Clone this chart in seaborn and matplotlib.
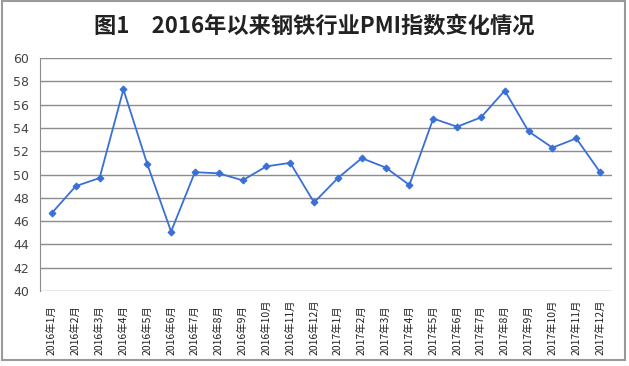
import numpy as np
import pandas as pd
import seaborn as sns
import matplotlib.pyplot as plt
from matplotlib.patches import Rectangle

# 月份与PMI数值
months = ['2016年1月', '2016年2月', '2016年3月', '2016年4月', '2016年5月', '2016年6月',
          '2016年7月', '2016年8月', '2016年9月', '2016年10月', '2016年11月', '2016年12月',
          '2017年1月', '2017年2月', '2017年3月', '2017年4月', '2017年5月', '2017年6月',
          '2017年7月', '2017年8月', '2017年9月', '2017年10月', '2017年11月', '2017年12月']
pmi = [46.7, 49.0, 49.7, 57.3, 50.9, 45.1, 50.2, 50.1, 49.5, 50.7, 51.0, 47.6,
       49.7, 51.4, 50.6, 49.1, 54.8, 54.1, 54.9, 57.2, 53.7, 52.3, 53.1, 50.2]
y_ticks = [40, 42, 44, 46, 48, 50, 52, 54, 56, 58, 60]

df = pd.DataFrame({'pos': np.arange(len(months)), 'PMI': pmi})

sns.set_style('white')
plt.rcParams['font.family'] = ['Noto Sans CJK SC', 'DejaVu Sans']

fig = plt.figure(figsize=(6.29, 3.66), dpi=100)
ax = fig.add_axes([40 / 629, 1 - 291 / 366, 572 / 629, 233 / 366])

# 外框
fig.patches.append(Rectangle((0.003, 0.016), 0.99, 0.98, transform=fig.transFigure,
                             fill=False, edgecolor='#9a9a9a', linewidth=1.5))

sns.lineplot(data=df, x='pos', y='PMI', ax=ax, color='#3a6fd6', linewidth=1.3,
             marker='D', markersize=3.5, markeredgecolor='#3a6fd6')

ax.set_xlim(-0.5, len(months) - 0.5)
ax.set_ylim(40, 60)
ax.set_yticks(y_ticks)
ax.set_yticklabels([str(v) for v in y_ticks], family='DejaVu Sans', fontsize=9, color='#444444')
ax.yaxis.grid(True, color='#8c8c8c', linewidth=1)
ax.set_axisbelow(True)
ax.tick_params(axis='y', length=0, pad=8)

# x轴刻度在分类边界
ax.set_xticks(np.arange(len(months) + 1) - 0.5)
ax.set_xticklabels([])
ax.tick_params(axis='x', direction='out', length=5, width=0.8, color='#777777')
for i, m in enumerate(months):
    ax.text(i, -0.275, m, transform=ax.get_xaxis_transform(), rotation=90,
            ha='center', va='bottom', fontsize=7.5, color='#222222')

ax.set_xlabel('')
ax.set_ylabel('')
for s in ['top', 'right', 'bottom']:
    ax.spines[s].set_visible(False)
ax.spines['left'].set_color('#8c8c8c')

fig.text(0.5, 0.93, '图1　2016年以来钢铁行业PMI指数变化情况', ha='center', va='center',
         fontsize=16, fontweight='bold', color='#222222')

fig.savefig('out.png', dpi=100)
